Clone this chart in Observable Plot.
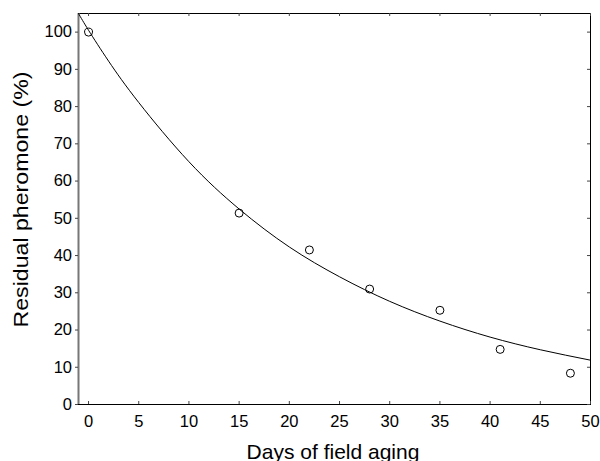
<!DOCTYPE html>
<html>
<head>
<meta charset="utf-8">
<script src="https://cdn.jsdelivr.net/npm/d3@7"></script>
<script src="https://cdn.jsdelivr.net/npm/@observablehq/plot@0.6"></script>
<style>
  html, body { margin: 0; padding: 0; background: #fff; }
  #chart svg { display: block; }
</style>
</head>
<body>
<div id="chart"></div>
<script>
// Observed points
const days = [0, 15, 22, 28, 35, 41, 48];
const residual = [100, 51.4, 41.5, 31, 25.3, 14.8, 8.4];
// Fitted curve
const fitDays = [-1, 0, 2, 5, 10, 15, 20, 25, 30, 35, 40, 45, 50];
const fitResidual = [105, 100.5, 92.2, 81.1, 65.2, 52.5, 42.3, 34.3, 27.7, 22.4, 18.1, 14.7, 11.9];
// Ticks
const xTicks = [0, 5, 10, 15, 20, 25, 30, 35, 40, 45, 50];
const yTicks = [0, 10, 20, 30, 40, 50, 60, 70, 80, 90, 100];
const xLabel = "Days of field aging";
const yLabel = "Residual pheromone (%)";

const points = days.map((d, i) => ({x: d, y: residual[i]}));
const fit = fitDays.map((d, i) => ({x: d, y: fitResidual[i]}));

const W = 600, H = 461;
const mL = 78, mR = 10, mT = 13, mB = 57;
const innerW = W - mL - mR, innerH = H - mT - mB;
const font = "'Liberation Sans', Arial, sans-serif";

const chart = Plot.plot({
  width: W,
  height: H,
  marginLeft: mL,
  marginRight: mR,
  marginTop: mT,
  marginBottom: mB,
  style: {fontFamily: font, background: "#fff", color: "#000"},
  x: {domain: [-1, 50]},
  y: {domain: [0, 105]},
  marks: [
    Plot.frame({stroke: "#000", strokeWidth: 1}),
    Plot.ruleX([-1], {stroke: "#777", strokeWidth: 2}),
    // inward ticks bottom/top/right
    Plot.tickX(xTicks, {x: d => d, insetTop: innerH - 3, stroke: "#444"}),
    Plot.tickX(xTicks, {x: d => d, insetBottom: innerH - 3, stroke: "#444"}),
    Plot.tickY(yTicks, {y: d => d, insetLeft: innerW - 3, stroke: "#444"}),
    Plot.axisX({ticks: xTicks, tickSize: 0, tickPadding: 11, fontSize: 16.5, label: null, tickFormat: d => String(d)}),
    Plot.axisY({ticks: yTicks, tickSize: 3, tickPadding: 3.5, fontSize: 16.5, label: null, stroke: "#444", tickFormat: d => String(d)}),
    Plot.line(fit, {x: "x", y: "y", curve: "natural", stroke: "#000", strokeWidth: 1}),
    Plot.dot(points, {x: "x", y: "y", r: 4, stroke: "#000", fill: "none", strokeWidth: 1}),
    Plot.text([xLabel], {frameAnchor: "bottom", dy: 54, dx: -1.5, fontSize: 21, fill: "#000"}),
    Plot.text([yLabel], {frameAnchor: "left", textAnchor: "middle", rotate: -90, dx: -57, dy: -9.5, fontSize: 21, fill: "#000"})
  ]
});
// stretch the rotated y title to the reference's length
chart.querySelectorAll("text").forEach(t => {
  if (t.textContent === yLabel) {
    t.setAttribute("textLength", 256);
    t.setAttribute("lengthAdjust", "spacingAndGlyphs");
  }
});
document.getElementById("chart").appendChild(chart);
</script>
</body>
</html>
